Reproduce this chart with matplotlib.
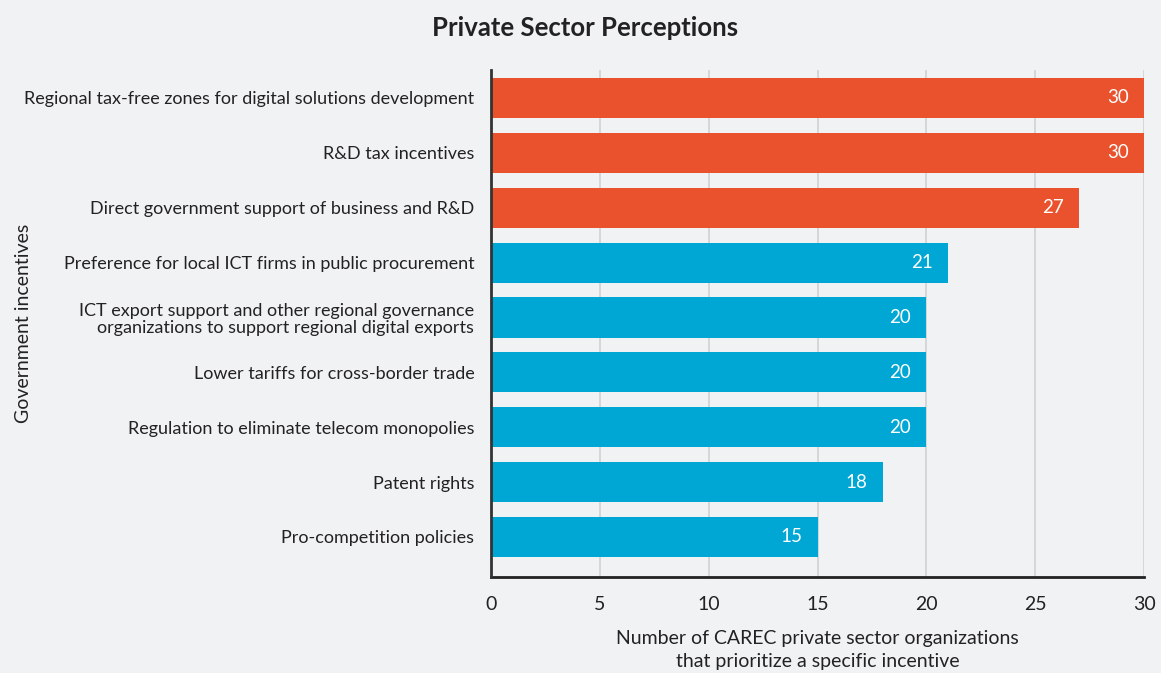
import numpy as np
import matplotlib.pyplot as plt

plt.rcParams['font.family'] = ['Lato', 'DejaVu Sans']

incentives = [
    'Regional tax-free zones for digital solutions development',
    'R&D tax incentives',
    'Direct government support of business and R&D',
    'Preference for local ICT firms in public procurement',
    'ICT export support and other regional governance\norganizations to support regional digital exports',
    'Lower tariffs for cross-border trade',
    'Regulation to eliminate telecom monopolies',
    'Patent rights',
    'Pro-competition policies',
]
counts = [30, 30, 27, 21, 20, 20, 20, 18, 15]
top_n = 3  # highlighted top incentives

bg = '#f1f2f4'
orange = '#e9522c'
blue = '#00a7d4'

fig = plt.figure(figsize=(11.61, 6.73), dpi=100, facecolor=bg)
ax = fig.add_axes([0.4229, 0.1426, 0.5625, 0.7534], facecolor=bg)

y = np.arange(len(counts))
colors = [orange if i < top_n else blue for i in range(len(counts))]
ax.barh(y, counts, height=0.73, color=colors, zorder=3)

for yi, v in zip(y, counts):
    ax.text(v - 0.7, yi, str(v), ha='right', va='center', color='white',
            fontsize=13.5, zorder=4)

ax.set_xlim(0, 30)
ax.set_ylim(8.73, -0.51)
ax.set_xticks([0, 5, 10, 15, 20, 25, 30])
ax.set_yticks(y)
ax.set_yticklabels(incentives, fontsize=13, color='#222222', linespacing=1.1)
ax.tick_params(axis='y', length=0, pad=12)
ax.tick_params(axis='x', length=0, pad=14, labelsize=14, colors='#222222')
ax.grid(axis='x', color='#d2d3d5', linewidth=1.3, zorder=0)

for s in ['top', 'right']:
    ax.spines[s].set_visible(False)
ax.spines['left'].set_color('#333333')
ax.spines['left'].set_linewidth(2)
ax.spines['bottom'].set_color('#222222')
ax.spines['bottom'].set_linewidth(2)
ax.spines['left'].set_zorder(5)

ax.set_xlabel('Number of CAREC private sector organizations\nthat prioritize a specific incentive',
              fontsize=14, color='#222222', labelpad=12, linespacing=1.45)
fig.text(0.02, 0.5194, 'Government incentives', rotation=90, ha='center', va='center',
         fontsize=14, color='#222222')
fig.text(0.504, 0.958, 'Private Sector Perceptions', ha='center', va='center',
         fontsize=18.5, fontweight='bold', color='#222222')

fig.savefig('out.png', dpi=100, facecolor=bg)
